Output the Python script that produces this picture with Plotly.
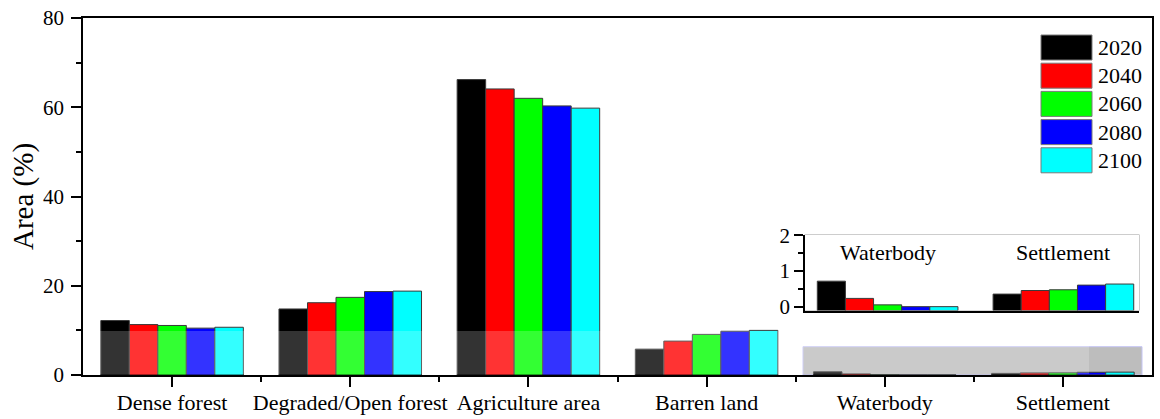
import plotly.graph_objects as go

# Land-use / land-cover share (%) projected for each year
categories = ["Dense forest", "Degraded/Open forest", "Agriculture area",
              "Barren land", "Waterbody", "Settlement"]
years = ["2020", "2040", "2060", "2080", "2100"]
colors = ["#000000", "#ff0000", "#00ff00", "#0000ff", "#00ffff"]

area_2020 = [12.2, 14.8, 66.2, 5.8, 0.72, 0.36]
area_2040 = [11.3, 16.2, 64.1, 7.6, 0.24, 0.46]
area_2060 = [11.1, 17.4, 62.0, 9.1, 0.06, 0.48]
area_2080 = [10.5, 18.7, 60.3, 9.8, 0.01, 0.61]
area_2100 = [10.7, 18.8, 59.8, 10.0, 0.01, 0.64]
series = [area_2020, area_2040, area_2060, area_2080, area_2100]

# Small classes shown enlarged in the inset
inset_categories = ["Waterbody", "Settlement"]
inset_index = [categories.index(c) for c in inset_categories]
INSET_FLOOR = -0.1  # inset bars rise from the inset axis floor

FONT = "Liberation Serif, Times New Roman, serif"
W, H = 1160, 419
ML, MR, MT, MB = 83, 8, 18, 44
PW, PH = W - ML - MR, H - MT - MB


def px_x(x):
    return (x - ML) / PW


def px_y(y):
    return (H - MB - y) / PH


fig = go.Figure()
xs = list(range(len(categories)))
for yr, col, vals in zip(years, colors, series):
    fig.add_trace(go.Bar(
        x=xs, y=vals, name=yr, marker=dict(color=col, line=dict(color="#3a3a3a", width=1)),
        showlegend=False, xaxis="x", yaxis="y"))

for yr, col, vals in zip(years, colors, series):
    sub = [vals[i] for i in inset_index]
    fig.add_trace(go.Bar(
        x=list(range(len(inset_categories))), y=[v - INSET_FLOOR for v in sub],
        base=INSET_FLOOR, name=yr,
        marker=dict(color=col, line=dict(color="#3a3a3a", width=1)),
        showlegend=False, xaxis="x2", yaxis="y2"))

axis_font = dict(family=FONT, size=21, color="black")

inset_x = [px_x(805), px_x(1139)]
inset_y = [px_y(310.6), px_y(234.5)]

fig.update_layout(
    width=W, height=H,
    margin=dict(l=ML, r=MR, t=MT, b=MB, autoexpand=False),
    paper_bgcolor="white", plot_bgcolor="white",
    barmode="group", bargap=0.2, bargroupgap=0,
    font=dict(family=FONT, color="black"),
    xaxis=dict(
        domain=[0, 1], range=[-0.5, 5.5], tickmode="array", tickvals=xs, ticktext=categories,
        ticks="outside", ticklen=10, tickwidth=1.5, tickcolor="black", ticklabelstandoff=-3,
        minor=dict(tickmode="array", tickvals=[i + 0.5 for i in xs[:-1]], ticks="outside",
                   ticklen=5, tickwidth=1.5, tickcolor="black"),
        showline=True, linecolor="black", linewidth=1.5, mirror=True, automargin=False,
        showgrid=False, zeroline=False, tickfont=dict(family=FONT, size=22)),
    yaxis=dict(
        domain=[0, 1], range=[0, 80], tickvals=[0, 20, 40, 60, 80],
        ticks="outside", ticklen=10, tickwidth=1.5, tickcolor="black", ticklabelstandoff=3,
        minor=dict(tickmode="array", tickvals=[10, 30, 50, 70], ticks="outside",
                   ticklen=5, tickwidth=1.5, tickcolor="black"),
        showline=True, linecolor="black", linewidth=1.5, mirror=True, automargin=False,
        showgrid=False, zeroline=False, tickfont=axis_font,
        title=dict(text="Area (%)", font=dict(family=FONT, size=29), standoff=1)),
    xaxis2=dict(
        domain=inset_x, anchor="y2", range=[-0.47, 1.43], automargin=False,
        showticklabels=False, ticks="", showgrid=False, zeroline=False,
        showline=True, linecolor="black", linewidth=1.5),
    yaxis2=dict(
        domain=inset_y, anchor="x2", range=[INSET_FLOOR, 2.02], tickvals=[0, 1, 2],
        ticks="outside", ticklen=9, tickwidth=1.5, tickcolor="black",
        minor=dict(tickmode="array", tickvals=[0.5, 1.5], ticks="outside",
                   ticklen=5, tickwidth=1.5, tickcolor="black"),
        showline=True, linecolor="black", linewidth=1.5, automargin=False,
        showgrid=False, zeroline=False, tickfont=axis_font),
)

shapes = []
# inset background panel
shapes.append(dict(type="rect", xref="x2 domain", yref="y2 domain", x0=0, x1=1, y0=0, y1=1,
                   fillcolor="#c0c0c0", line=dict(color="#9a9a9a", width=1), layer="below"))
# zoom region marker on the main axis
shapes.append(dict(type="rect", xref="paper", yref="paper", x0=px_x(803), x1=px_x(1142),
                   y0=0, y1=px_y(346.7), fillcolor="#bdbdbd",
                   line=dict(color="#c4c4f4", width=1), layer="below"))
# light haze band across the lower part of the bars
shapes.append(dict(type="rect", xref="paper", yref="paper", x0=px_x(85), x1=px_x(1089),
                   y0=px_y(374), y1=px_y(331), fillcolor="white", opacity=0.2,
                   line=dict(width=0), layer="above"))

annotations = []
# legend drawn as colour swatches with labels
for k, (yr, col) in enumerate(zip(years, colors)):
    top = 35 + 28.2 * k
    shapes.append(dict(type="rect", xref="paper", yref="paper",
                       x0=px_x(1041), x1=px_x(1092), y0=px_y(top + 25), y1=px_y(top),
                       fillcolor=col, line=dict(color="#7a7a7a", width=1), layer="above"))
    annotations.append(dict(text=yr, xref="paper", yref="paper", x=px_x(1096),
                            y=px_y(top + 12.5), xanchor="left", yanchor="middle",
                            showarrow=False, font=dict(family=FONT, size=22, color="black")))

for j, name in enumerate(inset_categories):
    annotations.append(dict(text=name, xref="x2", yref="y2", x=j, y=1.53,
                            xanchor="center", yanchor="middle", showarrow=False,
                            font=dict(family=FONT, size=22, color="black")))

fig.update_layout(shapes=shapes, annotations=annotations)

fig.write_html("out.html")
